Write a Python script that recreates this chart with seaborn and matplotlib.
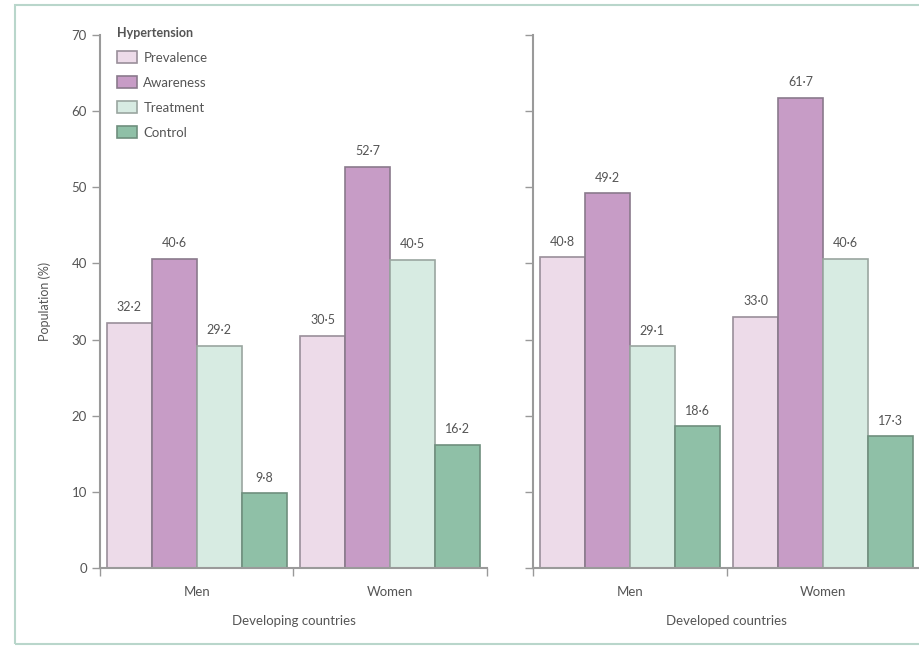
import matplotlib
matplotlib.use("Agg")
import matplotlib.pyplot as plt
from matplotlib.patches import Rectangle
from matplotlib.ticker import FixedLocator
import pandas as pd
import seaborn as sns

# Hypertension prevalence, awareness, treatment and control (%)
measures = ["Prevalence", "Awareness", "Treatment", "Control"]
sexes = ["Men", "Women"]
developing_men = [32.2, 40.6, 29.2, 9.8]
developing_women = [30.5, 52.7, 40.5, 16.2]
developed_men = [40.8, 49.2, 29.1, 18.6]
developed_women = [33.0, 61.7, 40.6, 17.3]
y_ticks = [0, 10, 20, 30, 40, 50, 60, 70]

palette = ["#eddbe9", "#c79cc6", "#d7ebe2", "#8fc0a7"]
edges = ["#9a8f9a", "#8a7a8c", "#9aa6a0", "#6f8f7e"]
text_col = "#555555"

sns.set_theme(style="white")
plt.rcParams["font.family"] = ["Lato", "DejaVu Sans"]


def frame(values_men, values_women):
    rows = []
    for sex, vals in zip(sexes, [values_men, values_women]):
        for m, v in zip(measures, vals):
            rows.append({"Sex": sex, "Measure": m, "Value": v})
    return pd.DataFrame(rows)


def mid_dot(v):
    return f"{v:.1f}".replace(".", "\u00b7")


fig = plt.figure(figsize=(9.2, 6.47), dpi=100)
ax_l = fig.add_axes([100 / 920, 1 - 568 / 647, 387 / 920, 533 / 647])
ax_r = fig.add_axes([533 / 920, 1 - 568 / 647, 387 / 920, 533 / 647])

panels = [
    (ax_l, frame(developing_men, developing_women), "Developing countries"),
    (ax_r, frame(developed_men, developed_women), "Developed countries"),
]

for i, (ax, df, title) in enumerate(panels):
    sns.barplot(data=df, x="Sex", y="Value", hue="Measure", order=sexes,
                hue_order=measures, palette=palette, width=0.93, gap=0,
                edgecolor=edges[0], linewidth=1.2, saturation=1, ax=ax,
                legend=(i == 0))
    for cont, ec in zip(ax.containers, edges):
        for bar in cont:
            bar.set_edgecolor(ec)
        ax.bar_label(cont, labels=[mid_dot(v) for v in cont.datavalues],
                     padding=7, fontsize=9, color=text_col)
    ax.set_xlim(-0.5, 1.5)
    ax.set_ylim(0, 70)
    ax.set_yticks(y_ticks)
    ax.xaxis.set_minor_locator(FixedLocator([-0.5, 0.5, 1.5]))
    ax.tick_params(axis="x", which="major", length=0, pad=13,
                   labelsize=9.5, labelcolor=text_col)
    ax.tick_params(axis="x", which="minor", length=6, width=1,
                   color="#999999", bottom=True)
    ax.tick_params(axis="y", length=6, width=1, color="#999999",
                   left=True, labelsize=9.5, labelcolor=text_col)
    ax.set_xlabel(title, fontsize=9.5, color=text_col, labelpad=12)
    ax.set_ylabel("")
    for s in ["top", "right"]:
        ax.spines[s].set_visible(False)
    for s in ["left", "bottom"]:
        ax.spines[s].set_color("#9a9a9a")
        ax.spines[s].set_linewidth(1.5)
    ax.patch.set_alpha(0)

ax_l.set_ylabel("Population (%)", fontsize=9, color=text_col, labelpad=15)
ax_r.set_yticklabels([])

leg = ax_l.legend(title="Hypertension", loc="upper left",
                  bbox_to_anchor=(0.03, 1.025), frameon=False, fontsize=9.5,
                  handlelength=1.5, handleheight=1.0, labelspacing=0.95,
                  handletextpad=0.5, borderaxespad=0)
leg.get_title().set_fontweight("bold")
leg.get_title().set_fontsize(9)
leg.get_title().set_color(text_col)
leg._legend_box.align = "left"
for t in leg.get_texts():
    t.set_color(text_col)
for h, ec in zip(leg.legend_handles, edges):
    h.set_edgecolor(ec)

# thin outer frame around the figure
fig.patches.append(Rectangle((15 / 920, 3 / 647), 0.99, 1 - 8 / 647,
                             transform=fig.transFigure, fill=False,
                             edgecolor="#b9d6cb", linewidth=1.5))

fig.savefig("out.png", dpi=100)
